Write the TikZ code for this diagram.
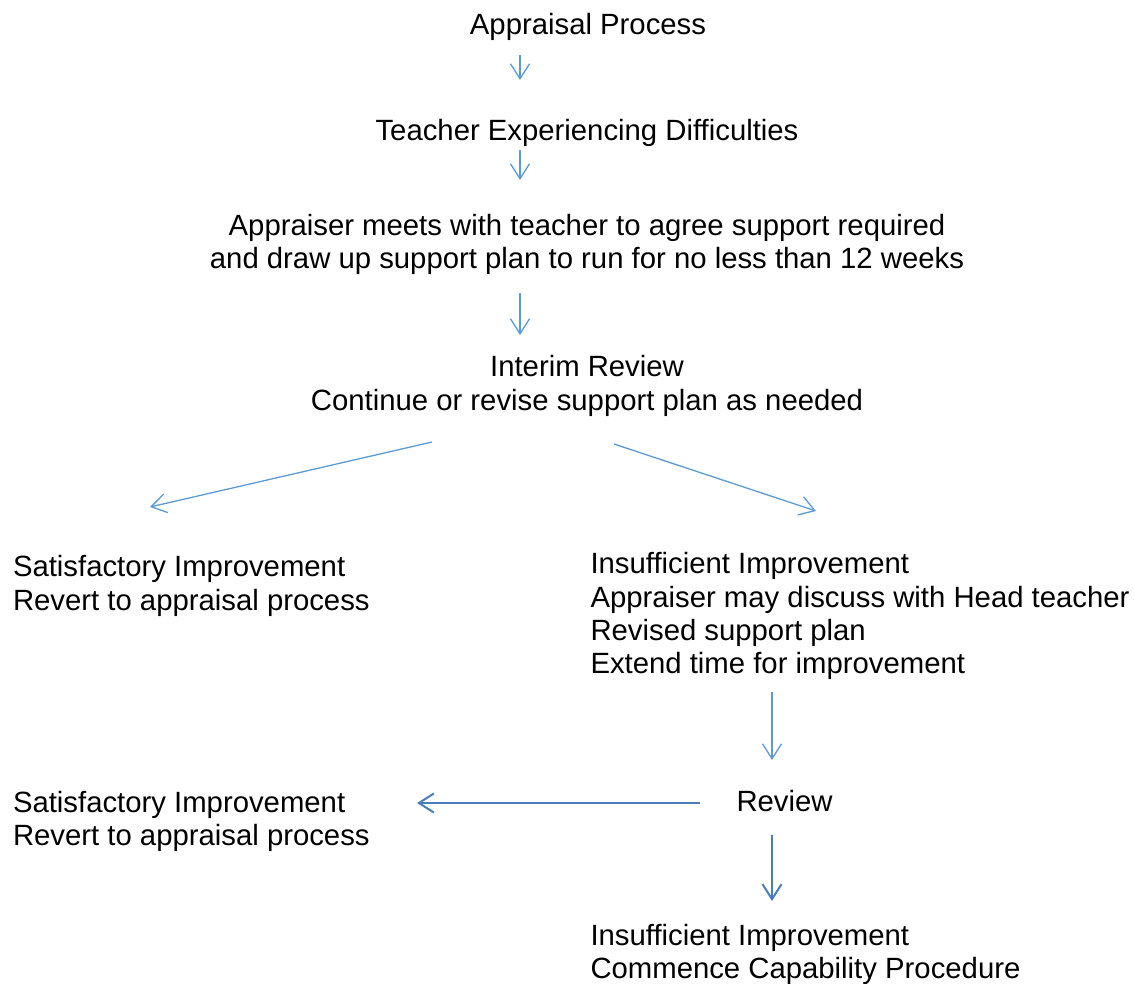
\documentclass[tikz,border=0pt]{standalone}
\usepackage{fontspec}
\setmainfont{Liberation Sans}
\usetikzlibrary{arrows.meta}
\definecolor{lightarrow}{HTML}{5B9BD5}
\definecolor{darkarrow}{HTML}{4A7EBB}
\begin{document}
\begin{tikzpicture}[x=1pt,y=-1pt,
  txt/.style={inner sep=0pt, outer sep=0pt, font={\fontsize{29.3}{33.2}\selectfont}},
  ctxt/.style={txt, align=center, anchor=base},
  ltxt/.style={txt, align=left, anchor=base west},
  larrow/.style={draw=lightarrow, line width=1.3pt, -{Straight Barb[length=15pt,width=19pt,line width=1.3pt]}},
  darrow/.style={draw=darkarrow, line width=2.3pt, -{Straight Barb[length=15pt,width=19pt,line width=2pt]}}
]
\useasboundingbox (0,0) rectangle (1134,983);

% for multi-line nodes the base anchor sits on the last line
\node[ctxt] (ap) at (588,34.5) {Appraisal Process};
\node[ctxt] (td) at (587,140) {Teacher Experiencing Difficulties};
\node[ctxt] (meet) at (587,268.3) {Appraiser meets with teacher to agree support required\\and draw up support plan to run for no less than 12 weeks};
\node[ctxt] (ir) at (587,410) {Interim Review\\Continue or revise support plan as needed};
\node[ltxt] (sat1) at (13,610) {Satisfactory Improvement\\Revert to appraisal process};
\node[ltxt] (ins1) at (590.5,673.5) {Insufficient Improvement\\Appraiser may discuss with Head teacher\\Revised support plan\\Extend time for improvement};
\node[ltxt] (rev) at (736.5,811.5) {Review};
\node[ltxt] (sat2) at (13,845.5) {Satisfactory Improvement\\Revert to appraisal process};
\node[ltxt] (ins2) at (590.5,978.5) {Insufficient Improvement\\Commence Capability Procedure};

\coordinate (a1s) at (520,55);  \coordinate (a1e) at (520,80);
\coordinate (a2s) at (520,150); \coordinate (a2e) at (520,180);
\coordinate (a3s) at (520,293); \coordinate (a3e) at (520,335);
\coordinate (dls) at (432,442); \coordinate (dle) at (150,507);
\coordinate (drs) at (614,444); \coordinate (dre) at (816,511);
\coordinate (b1s) at (772,692); \coordinate (b1e) at (772,760);
\coordinate (rls) at (700,803); \coordinate (rle) at (417,803);
\coordinate (b2s) at (772,835); \coordinate (b2e) at (772,901);

\draw[larrow] (a1s) -- (a1e);
\draw[larrow] (a2s) -- (a2e);
\draw[larrow] (a3s) -- (a3e);
\draw[larrow] (dls) -- (dle);
\draw[larrow] (drs) -- (dre);
\draw[larrow] (b1s) -- (b1e);
\draw[darrow] (rls) -- (rle);
\draw[darrow] (b2s) -- (b2e);
\end{tikzpicture}
\end{document}
